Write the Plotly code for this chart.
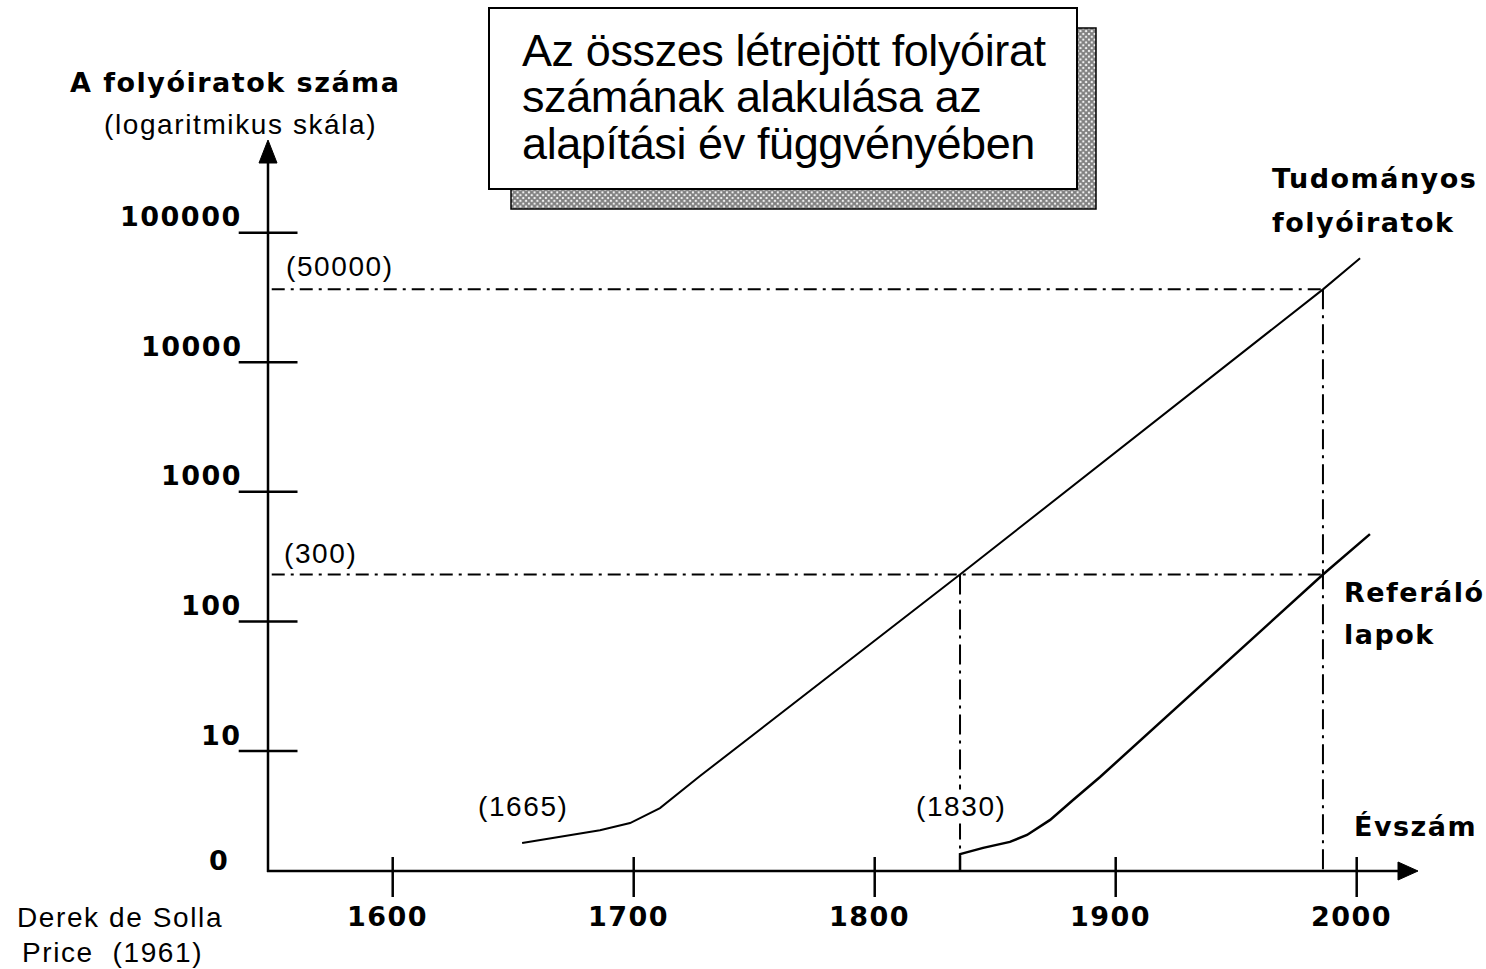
import math
import plotly.graph_objects as go

W, H = 1486, 969

# ---------------- data ----------------
sci_years = [1653.7, 1669.4, 1686.0, 1698.5, 1710.9, 1727.5, 1835.4, 1986.0, 2001.4]
sci_counts = [1.95, 2.17, 2.45, 2.78, 3.63, 6.41, 230, 36500, 63400]

abs_years = [1835.4, 1835.4, 1845.0, 1856.1, 1863.2, 1872.8, 1882.3, 1893.5, 1986.0, 2005.5]
abs_counts = [1.19, 1.60, 1.79, 1.99, 2.25, 2.94, 4.19, 6.30, 230, 472]

ref_levels = [36500, 230]
ref_level_labels = ["(50000)", "(300)"]
ref_years = [1835.4, 1986.0]
ref_year_labels = ["(1665)", "(1830)"]

x_tick_vals = [1600, 1700, 1800, 1900, 2000]
x_tick_text = ["1600", "1700", "1800", "1900", "2000"]
y_tick_vals = [10, 100, 1000, 10000, 100000]
y_tick_text = ["10", "100", "1000", "10000", "100000"]
base_value = 1.19          # value where the x axis sits (labelled "0")
axis_year = 1548.3         # year where the y axis sits

title_lines = ["Az összes létrejött folyóirat", "számának alakulása az", "alapítási év függvényében"]

# ---------------- styles ----------------
BOLD = "DejaVu Sans"
REG = "Liberation Sans, Arial"
BLACK = "#000000"


def sp(t, ls):
    return f'<span style="letter-spacing:{ls}px">{t}</span>'


fig = go.Figure()

# shadow of title box (pixel overlay)
fig.add_trace(go.Scatter(
    x=[511, 1096, 1096, 511, 511], y=[28, 28, 209, 209, 28],
    xaxis="x2", yaxis="y2", mode="lines", fill="toself",
    line=dict(color=BLACK, width=1.5),
    fillcolor="#555555",
    fillpattern=dict(shape="x", size=4, solidity=0.75, fgcolor="#000000", bgcolor="#ffffff"),
    hoverinfo="skip", showlegend=False))

# reference dash-dot lines
DASH_H = "13px,6px,3px,6px"
DASH_V = "20px,6px,3px,6px"
for lv in ref_levels:
    fig.add_trace(go.Scatter(x=[axis_year + 1.5, ref_years[1]], y=[lv, lv], mode="lines",
                             line=dict(color=BLACK, width=2, dash=DASH_H),
                             hoverinfo="skip", showlegend=False))
fig.add_trace(go.Scatter(x=[ref_years[0], ref_years[0]], y=[ref_levels[1], abs_counts[1]], mode="lines",
                         line=dict(color=BLACK, width=2, dash=DASH_V), hoverinfo="skip", showlegend=False))
fig.add_trace(go.Scatter(x=[ref_years[1], ref_years[1]], y=[ref_levels[0], base_value], mode="lines",
                         line=dict(color=BLACK, width=2, dash=DASH_V), hoverinfo="skip", showlegend=False))

# curves
fig.add_trace(go.Scatter(x=sci_years, y=sci_counts, mode="lines", name="Tudományos folyóiratok",
                         line=dict(color=BLACK, width=2), showlegend=False))
fig.add_trace(go.Scatter(x=abs_years, y=abs_counts, mode="lines", name="Referáló lapok",
                         line=dict(color=BLACK, width=2.5), showlegend=False))

# y ticks
fig.add_trace(go.Scatter(x=[axis_year] * len(y_tick_vals), y=y_tick_vals, mode="markers",
                         marker=dict(symbol="line-ew", size=42, line=dict(color=BLACK, width=2.5)),
                         hoverinfo="skip", showlegend=False))

shapes = []
# title box
shapes.append(dict(type="rect", xref="x2", yref="y2", x0=489, x1=1077, y0=8, y1=189,
                   fillcolor="white", line=dict(color=BLACK, width=2), layer="above"))
# axes
shapes.append(dict(type="line", xref="x2", yref="y2", x0=268, x1=268, y0=160, y1=872,
                   line=dict(color=BLACK, width=2.5)))
shapes.append(dict(type="line", xref="x2", yref="y2", x0=267, x1=1402, y0=871, y1=871,
                   line=dict(color=BLACK, width=2.5)))
shapes.append(dict(type="path", xref="x2", yref="y2", path="M 268 140 L 259 163 L 277 163 Z",
                   fillcolor=BLACK, line=dict(color=BLACK, width=1)))
shapes.append(dict(type="path", xref="x2", yref="y2", path="M 1418 871 L 1398 862 L 1398 880 Z",
                   fillcolor=BLACK, line=dict(color=BLACK, width=1)))
# x ticks
for xv in x_tick_vals:
    shapes.append(dict(type="line", xref="x", yref="y2", x0=xv, x1=xv, y0=857, y1=897,
                       line=dict(color=BLACK, width=2.5)))

ann = []


def txt(t, x, y, size, font, xanchor="center", bold=False, ls=0, bg=None):
    d = dict(text=sp(t, ls) if ls else t, x=x, y=y, xref="x2", yref="y2",
             xanchor=xanchor, yanchor="middle", showarrow=False,
             font=dict(family=font, size=size, color=BLACK, weight="bold" if bold else "normal"))
    if bg:
        d["bgcolor"] = bg
    ann.append(d)


# axis titles
txt("A folyóiratok száma", 235, 82, 27, BOLD, bold=True, ls=1.5)
txt("(logaritmikus skála)", 240, 124, 28, REG, ls=1.6)
txt("Évszám", 1352, 826, 27, BOLD, xanchor="left", bold=True, ls=1.5)

# y tick labels (bold), placed just above each tick
for v, t in zip(y_tick_vals, y_tick_text):
    ann.append(dict(text=sp(t, 1.5), x=244, xref="x2", y=math.log10(v), yref="y",
                    xanchor="right", yanchor="middle", yshift=16, showarrow=False,
                    font=dict(family=BOLD, size=27, color=BLACK, weight="bold")))
ann.append(dict(text="0", x=230, xref="x2", y=math.log10(base_value), yref="y",
                xanchor="right", yanchor="middle", yshift=10, showarrow=False,
                font=dict(family=BOLD, size=27, color=BLACK, weight="bold")))
# x tick labels
for v, t in zip(x_tick_vals, x_tick_text):
    ann.append(dict(text=sp(t, 1.5), x=v, xref="x", y=916, yref="y2",
                    xanchor="center", yanchor="middle", xshift=-5, showarrow=False,
                    font=dict(family=BOLD, size=27, color=BLACK, weight="bold")))

# reference labels
txt(ref_level_labels[0], 340, 266, 28, REG, ls=1.6)
txt(ref_level_labels[1], 320, 553, 28, REG, ls=1.6)
txt(ref_year_labels[0], 523, 806, 28, REG, ls=1.6)
txt(ref_year_labels[1], 961, 806, 28, REG, ls=1.6, bg="white")

# series labels
txt("Tudományos", 1270, 178, 27, BOLD, xanchor="left", bold=True, ls=1.5)
txt("folyóiratok", 1270, 222, 27, BOLD, xanchor="left", bold=True, ls=1.5)
txt("Referáló", 1342, 592, 27, BOLD, xanchor="left", bold=True, ls=1.5)
txt("lapok", 1342, 634, 27, BOLD, xanchor="left", bold=True, ls=1.5)

# source
txt("Derek de Solla", 15, 917, 28, REG, xanchor="left", ls=1.6)
txt("Price  (1961)", 20, 952, 28, REG, xanchor="left", ls=1.6)

# title
for i, line in enumerate(title_lines):
    txt(line, 520, 50 + i * 46.5, 45, REG, xanchor="left", ls=-0.4)

fig.update_layout(
    width=W, height=H, margin=dict(l=0, r=0, t=0, b=0),
    paper_bgcolor="white", plot_bgcolor="white",
    xaxis=dict(domain=[0, 1], range=[1437.05, 2053.65], visible=False, fixedrange=True),
    yaxis=dict(domain=[0, 1], type="log", range=[-0.682, 6.795], visible=False, fixedrange=True),
    xaxis2=dict(overlaying="x", range=[0, W], visible=False, anchor="y2", fixedrange=True),
    yaxis2=dict(overlaying="y", range=[H, 0], visible=False, anchor="x2", fixedrange=True),
    shapes=shapes, annotations=ann, showlegend=False,
)

fig.write_html("out.html", config={"displayModeBar": False},
               post_script="document.body.style.margin='0';document.body.style.overflow='hidden';")
